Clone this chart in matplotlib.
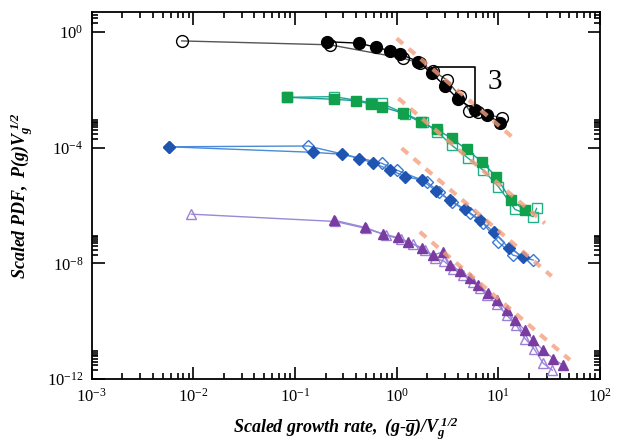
"""
Scaled growth-rate distributions collapsing onto a power-law tail.
"""
import numpy as np
import matplotlib
matplotlib.use("Agg")
from matplotlib import pyplot as plt
from matplotlib.ticker import FixedLocator, NullFormatter

# black circles
black_filled_x = [0.205, 0.428, 0.625, 0.86, 1.08, 1.63, 2.21, 2.99, 4.04, 5.89, 7.67, 10.5]
black_filled_y = [0.46, 0.41, 0.295, 0.225, 0.174, 0.094, 0.037, 0.0135, 4.7e-3, 2.0e-3, 1.35e-3, 7.3e-4]
black_open_x = [0.0077, 0.22, 1.16, 1.69, 2.3, 3.1, 4.2, 5.2, 6.3, 10.8]
black_open_y = [0.49, 0.36, 0.123, 0.083, 0.045, 0.022, 6.0e-3, 1.9e-3, 1.75e-3, 1.05e-3]

# green squares
green_filled_x = [0.084, 0.243, 0.395, 0.56, 0.71, 1.16, 1.73, 2.47, 3.47, 4.87, 6.85, 9.5, 13.2, 18.2]
green_filled_y = [5.5e-3, 4.7e-3, 4.2e-3, 3.2e-3, 2.6e-3, 1.55e-3, 7.5e-4, 4.3e-4, 2.1e-4,
                  8.7e-5, 3.3e-5, 1.0e-5, 1.6e-6, 6.9e-7]
green_open_x = [0.084, 0.243, 0.56, 0.71, 1.2, 1.8, 2.5, 3.47, 5.06, 7.1, 10.0, 14.6, 22.0, 23.8]
green_open_y = [5.5e-3, 5.8e-3, 3.6e-3, 3.4e-3, 1.5e-3, 8e-4, 3.6e-4, 1.23e-4, 4.3e-5,
                1.67e-5, 4.5e-6, 7.3e-7, 4.1e-7, 7.9e-7]

# blue diamonds
blue_filled_x = [5.77e-3, 0.149, 0.292, 0.429, 0.58, 0.86, 1.21, 1.76, 2.44, 3.34, 4.7, 6.6, 9.05, 12.8, 17.6]
blue_filled_y = [1.07e-4, 6.9e-5, 5.9e-5, 4.2e-5, 3.0e-5, 1.7e-5, 1.0e-5, 7.6e-6, 3.2e-6,
                 1.54e-6, 7.4e-7, 3.2e-7, 1.17e-7, 3.3e-8, 1.7e-8]
blue_open_x = [5.77e-3, 0.135, 0.71, 1.0, 1.97, 2.6, 3.47, 5.25, 7.1, 10.0, 14.0, 22.0]
blue_open_y = [1.07e-4, 1.14e-4, 2.9e-5, 1.67e-5, 6.6e-6, 3.0e-6, 1.35e-6, 5.3e-7, 2.4e-7,
               5.5e-8, 1.9e-8, 1.3e-8]

# purple triangles
purple_filled_x = [0.243, 0.49, 0.74, 1.02, 1.3, 1.76, 2.26, 2.87, 3.34, 4.19, 5.26, 6.34, 7.95,
                   9.6, 12.1, 14.6, 18.3, 22.0, 27.6, 34.7, 42.9]
purple_filled_y = [3.1e-7, 1.74e-7, 1.02e-7, 7.9e-8, 5.5e-8, 3.5e-8, 1.9e-8, 2.5e-8, 8.7e-9,
                   5.5e-9, 3.0e-9, 1.77e-9, 9.1e-10, 5.4e-10, 2.4e-10, 1.08e-10, 4.9e-11,
                   2.2e-11, 1e-11, 5.1e-12, 3.0e-12]
purple_open_x = [0.0096, 0.25, 0.5, 0.78, 1.1, 1.45, 1.9, 2.4, 2.9, 3.6, 4.5, 5.6, 6.6, 7.7,
                 9.8, 12.1, 15.0, 18.3, 22.5, 27.6, 34.0]
purple_open_y = [5.0e-7, 2.8e-7, 1.6e-7, 9.5e-8, 6.8e-8, 4.6e-8, 2.8e-8, 1.5e-8, 1.2e-8,
                 6.5e-9, 4.0e-9, 2.2e-9, 1.4e-9, 7.9e-10, 3.8e-10, 1.6e-10, 7.3e-11,
                 2.5e-11, 1.1e-11, 3.5e-12, 2.0e-12]

# power-law guides, y = A * x^slope
fit_slope = -3
fit_amplitude = [0.6, 5.7e-3, 1.34e-4, 5.9e-7]
fit_x_start = [1.0, 1.04, 1.12, 1.69]
fit_x_end = [15.1, 28.7, 33.4, 50.6]

# slope triangle
triangle_x = [2.33, 5.89]
triangle_y = [0.0616, 2.75e-3]
slope_label = "3"
slope_label_pos = (9.3, 0.019)

x_major = [1e-3, 1e-2, 1e-1, 1e0, 1e1, 1e2]
y_major = [1e-12, 1e-8, 1e-4, 1e0]


def main():
    plt.rcParams["font.family"] = ["Liberation Serif", "DejaVu Serif"]
    plt.rcParams["mathtext.fontset"] = "custom"
    plt.rcParams["mathtext.rm"] = "Liberation Serif:bold:italic"
    plt.rcParams["mathtext.it"] = "Liberation Serif:bold:italic"
    plt.rcParams["mathtext.bf"] = "Liberation Serif:bold:italic"

    fig = plt.figure(figsize=(6.29, 4.43), dpi=100)
    axis = fig.add_axes([0.1456, 0.1445, 0.8083, 0.8284])

    series = [
        (black_open_x, black_open_y, "o", "#555555", "none", "black", 8.5),
        (black_filled_x, black_filled_y, "o", "black", "black", "black", 8.5),
        (green_open_x, green_open_y, "s", "#22a890", "none", "#22b088", 7),
        (green_filled_x, green_filled_y, "s", "#1a9c9a", "#11a04c", "#11a04c", 6.5),
        (blue_open_x, blue_open_y, "D", "#4a8ad8", "none", "#3a78d0", 6),
        (blue_filled_x, blue_filled_y, "D", "#4a8ad8", "#1f55b0", "#1f55b0", 6),
        (purple_open_x, purple_open_y, "^", "#9a88d8", "none", "#9c80d8", 7.5),
        (purple_filled_x, purple_filled_y, "^", "#9a88d8", "#7a3ca0", "#7a3ca0", 7.5),
    ]
    for xs, ys, marker, line_color, face, edge, size in series:
        axis.plot(xs, ys, marker=marker, color=line_color, lw=1.0,
                  markerfacecolor=face, markeredgecolor=edge,
                  markeredgewidth=1.0, markersize=size)

    for amp, x0, x1 in zip(fit_amplitude, fit_x_start, fit_x_end):
        xs = np.array([x0, x1])
        axis.plot(xs, amp * xs ** fit_slope, color="#f4a07e", lw=3.0,
                  dashes=(2.0, 1.8), alpha=0.8, zorder=5)

    axis.plot([triangle_x[0], triangle_x[1], triangle_x[1]],
              [triangle_y[0], triangle_y[0], triangle_y[1]],
              color="black", lw=1.2, zorder=6)
    axis.text(slope_label_pos[0], slope_label_pos[1], slope_label,
              fontsize=21, ha="center", va="center")

    axis.set_xscale("log")
    axis.set_yscale("log")
    axis.set_xlim(1e-3, 1e2)
    axis.set_ylim(1e-12, 4.9)

    axis.xaxis.set_major_locator(FixedLocator(x_major))
    x_minor = [m * 10.0 ** k for k in range(-3, 2) for m in range(2, 10)]
    axis.xaxis.set_minor_locator(FixedLocator(x_minor))
    axis.yaxis.set_major_locator(FixedLocator(y_major))
    y_minor = [m * v for v in y_major for m in range(2, 10)]
    axis.yaxis.set_minor_locator(FixedLocator(y_minor))
    axis.xaxis.set_minor_formatter(NullFormatter())
    axis.yaxis.set_minor_formatter(NullFormatter())

    axis.tick_params(which="both", direction="in", top=True, right=True,
                     labelsize=12, width=1.2)
    axis.tick_params(which="major", length=9, pad=6)
    axis.tick_params(which="minor", length=4.5)
    for spine in axis.spines.values():
        spine.set_linewidth(1.3)

    axis.set_xlabel(r"$\mathrm{Scaled\ growth\ rate,\ (g}$-$\mathrm{\overline{g})/V_{g}^{\ 1/2}}$",
                    fontsize=13, labelpad=8)
    axis.set_ylabel(r"$\mathrm{Scaled\ PDF,\ P(g)V_{g}^{\ 1/2}}$",
                    fontsize=13, labelpad=8)

    fig.savefig("out.png", dpi=100)


main()
